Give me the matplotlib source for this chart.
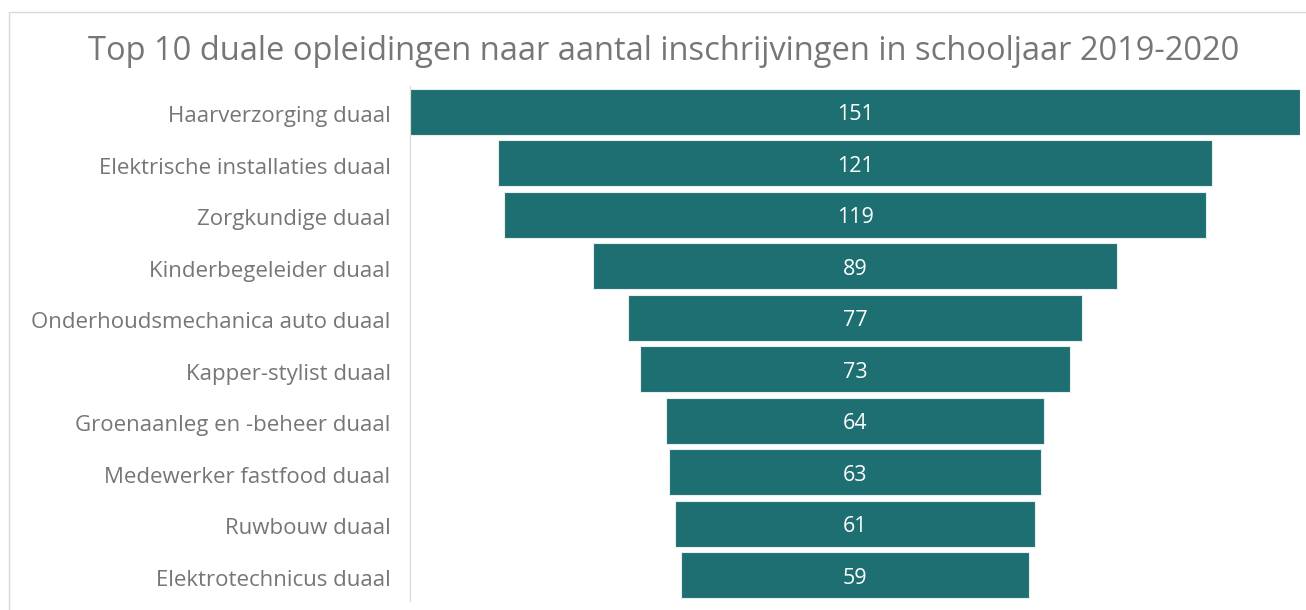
import matplotlib.pyplot as plt
from matplotlib.patches import Rectangle

plt.rcParams['font.family'] = ['Open Sans', 'DejaVu Sans']

opleidingen = [
    "Haarverzorging duaal",
    "Elektrische installaties duaal",
    "Zorgkundige duaal",
    "Kinderbegeleider duaal",
    "Onderhoudsmechanica auto duaal",
    "Kapper-stylist duaal",
    "Groenaanleg en -beheer duaal",
    "Medewerker fastfood duaal",
    "Ruwbouw duaal",
    "Elektrotechnicus duaal",
]
inschrijvingen = [151, 121, 119, 89, 77, 73, 64, 63, 61, 59]

teal = '#1D6F71'
grijs = '#767676'

W, H = 1306, 610
fig = plt.figure(figsize=(W / 100, H / 100), dpi=100)

# light frame around the chart
fig.patches.append(Rectangle((9 / W, -0.1), 1.1, (H - 12) / H + 0.1,
                             transform=fig.transFigure, fill=False,
                             edgecolor='#D9D9D9', linewidth=1))

ax = fig.add_axes([410 / W, 9 / H, 890 / W, 515 / H])

rows = list(range(len(opleidingen)))
links = [-v / 2 for v in inschrijvingen]
ax.barh(rows, inschrijvingen, left=links, height=0.9, color=teal,
        edgecolor='#E8EEEE', linewidth=0.8)

for r, v in zip(rows, inschrijvingen):
    ax.text(0, r + 0.06, str(v), ha='center', va='center', color='white', fontsize=15.5)

half = max(inschrijvingen) / 2
ax.set_xlim(-half, half)
ax.set_ylim(len(opleidingen) - 0.5, -0.5)
ax.set_yticks([r + 0.05 for r in rows])
ax.set_yticklabels(opleidingen, fontsize=16, color=grijs)
ax.tick_params(axis='y', length=0, pad=14)
ax.set_xticks([])

for s in ['top', 'right', 'bottom']:
    ax.spines[s].set_visible(False)
ax.spines['left'].set_color('#D9D9D9')

fig.text(664 / W, 1 - 52 / H, "Top 10 duale opleidingen naar aantal inschrijvingen in schooljaar 2019-2020",
         ha='center', va='center', fontsize=23.5, color=grijs)

fig.savefig('out.png', dpi=100)
